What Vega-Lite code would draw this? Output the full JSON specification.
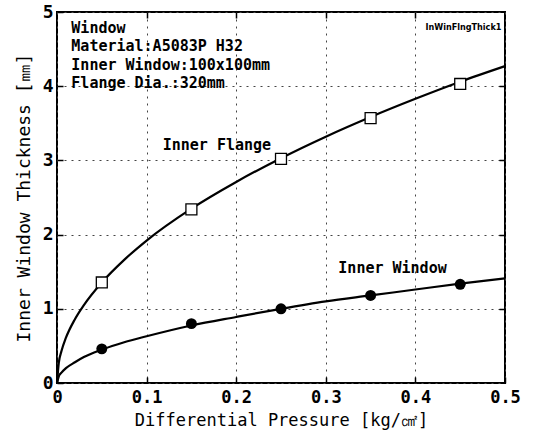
{
  "$schema": "https://vega.github.io/schema/vega-lite/v6.json",
  "autosize": "none",
  "width": 448,
  "height": 371,
  "padding": {"left": 57, "top": 12, "right": 30, "bottom": 58},
  "background": "white",
  "config": {
    "view": {"stroke": "black", "strokeWidth": 2},
    "font": "DejaVu Sans Mono",
    "axis": {"labelFont": "DejaVu Sans Mono", "titleFont": "DejaVu Sans Mono"}
  },
  "datasets": {
    "curves": [
      {"series": "Inner Flange", "p": 0, "t": 0},
      {"series": "Inner Flange", "p": 0.002, "t": 0.27},
      {"series": "Inner Flange", "p": 0.005, "t": 0.43},
      {"series": "Inner Flange", "p": 0.01, "t": 0.61},
      {"series": "Inner Flange", "p": 0.02, "t": 0.86},
      {"series": "Inner Flange", "p": 0.03, "t": 1.05},
      {"series": "Inner Flange", "p": 0.05, "t": 1.355},
      {"series": "Inner Flange", "p": 0.075, "t": 1.66},
      {"series": "Inner Flange", "p": 0.1, "t": 1.92},
      {"series": "Inner Flange", "p": 0.15, "t": 2.35},
      {"series": "Inner Flange", "p": 0.2, "t": 2.71},
      {"series": "Inner Flange", "p": 0.25, "t": 3.03},
      {"series": "Inner Flange", "p": 0.3, "t": 3.32},
      {"series": "Inner Flange", "p": 0.35, "t": 3.585},
      {"series": "Inner Flange", "p": 0.4, "t": 3.83},
      {"series": "Inner Flange", "p": 0.45, "t": 4.06},
      {"series": "Inner Flange", "p": 0.5, "t": 4.27},
      {"series": "Inner Window", "p": 0, "t": 0},
      {"series": "Inner Window", "p": 0.002, "t": 0.09},
      {"series": "Inner Window", "p": 0.005, "t": 0.14},
      {"series": "Inner Window", "p": 0.01, "t": 0.2},
      {"series": "Inner Window", "p": 0.02, "t": 0.28},
      {"series": "Inner Window", "p": 0.03, "t": 0.35},
      {"series": "Inner Window", "p": 0.05, "t": 0.45},
      {"series": "Inner Window", "p": 0.075, "t": 0.55},
      {"series": "Inner Window", "p": 0.1, "t": 0.63},
      {"series": "Inner Window", "p": 0.15, "t": 0.775},
      {"series": "Inner Window", "p": 0.2, "t": 0.89},
      {"series": "Inner Window", "p": 0.25, "t": 1.0},
      {"series": "Inner Window", "p": 0.3, "t": 1.1},
      {"series": "Inner Window", "p": 0.35, "t": 1.18},
      {"series": "Inner Window", "p": 0.4, "t": 1.26},
      {"series": "Inner Window", "p": 0.45, "t": 1.34},
      {"series": "Inner Window", "p": 0.5, "t": 1.41}
    ],
    "points": [
      {"series": "Inner Flange", "p": 0.05, "t": 1.355},
      {"series": "Inner Flange", "p": 0.15, "t": 2.34},
      {"series": "Inner Flange", "p": 0.25, "t": 3.02},
      {"series": "Inner Flange", "p": 0.35, "t": 3.57},
      {"series": "Inner Flange", "p": 0.45, "t": 4.03},
      {"series": "Inner Window", "p": 0.05, "t": 0.46},
      {"series": "Inner Window", "p": 0.15, "t": 0.8},
      {"series": "Inner Window", "p": 0.25, "t": 1.0},
      {"series": "Inner Window", "p": 0.35, "t": 1.18},
      {"series": "Inner Window", "p": 0.45, "t": 1.33}
    ],
    "notes": [
      {"label": "Window", "p": 0.016, "t": 4.79},
      {"label": "Material:A5083P H32", "p": 0.016, "t": 4.54},
      {"label": "Inner Window:100x100mm", "p": 0.016, "t": 4.29},
      {"label": "Flange Dia.:320mm", "p": 0.016, "t": 4.04},
      {"label": "Inner Flange", "p": 0.118, "t": 3.21},
      {"label": "Inner Window", "p": 0.314, "t": 1.55}
    ],
    "tag": [
      {"label": "InWinFlngThick1", "p": 0.496, "t": 4.8}
    ]
  },
  "layer": [
    {
      "data": {"name": "curves"},
      "mark": {"type": "line", "color": "black", "strokeWidth": 2.2, "interpolate": "monotone"},
      "encoding": {
        "x": {
          "field": "p", "type": "quantitative",
          "scale": {"domain": [0, 0.5], "nice": false},
          "axis": {
            "values": [0, 0.1, 0.2, 0.3, 0.4, 0.5],
            "labelExpr": "datum.value == 0 ? '0' : format(datum.value, '.1f')",
            "labelFontSize": 17, "labelFontWeight": "bold", "labelColor": "black",
            "labelPadding": 12, "labelFlush": false,
            "tickSize": -6, "tickColor": "black", "tickWidth": 1.5,
            "domain": false,
            "grid": true, "gridColor": "#444", "gridDash": [2, 5], "gridWidth": 1,
            "title": "Differential Pressure [kg/㎠]",
            "titleFontSize": 17, "titleFontWeight": "normal", "titleColor": "black",
            "titlePadding": 7
          }
        },
        "y": {
          "field": "t", "type": "quantitative",
          "scale": {"domain": [0, 5], "nice": false},
          "axis": {
            "values": [0, 1, 2, 3, 4, 5],
            "format": "d",
            "labelFontSize": 18, "labelFontWeight": "bold", "labelColor": "black",
            "labelPadding": 10, "labelFlush": false,
            "tickSize": -6, "tickColor": "black", "tickWidth": 1.5,
            "domain": false,
            "grid": true, "gridColor": "#444", "gridDash": [2, 5], "gridWidth": 1,
            "title": "Inner Window Thickness [㎜]",
            "titleFontSize": 18, "titleFontWeight": "normal", "titleColor": "black",
            "titlePadding": 9
          }
        },
        "detail": {"field": "series"}
      }
    },
    {
      "data": {"name": "points"},
      "transform": [{"filter": "datum.series == 'Inner Flange'"}],
      "mark": {"type": "point", "shape": "square", "filled": true, "fill": "white", "stroke": "black", "strokeWidth": 1.3, "size": 120, "opacity": 1},
      "encoding": {
        "x": {"field": "p", "type": "quantitative", "axis": {"orient": "top", "values": [0.1, 0.2, 0.3, 0.4], "labels": false, "domain": false, "grid": false, "tickSize": -6, "tickColor": "black", "tickWidth": 1.5, "title": null}},
        "y": {"field": "t", "type": "quantitative", "axis": {"orient": "right", "values": [1, 2, 3, 4], "labels": false, "domain": false, "grid": false, "tickSize": -6, "tickColor": "black", "tickWidth": 1.5, "title": null}}
      }
    },
    {
      "data": {"name": "points"},
      "transform": [{"filter": "datum.series == 'Inner Window'"}],
      "mark": {"type": "circle", "color": "black", "size": 120, "opacity": 1},
      "encoding": {
        "x": {"field": "p", "type": "quantitative", "axis": null},
        "y": {"field": "t", "type": "quantitative", "axis": null}
      }
    },
    {
      "data": {"name": "notes"},
      "mark": {"type": "text", "align": "left", "baseline": "middle", "fontSize": 15, "fontWeight": "bold", "font": "DejaVu Sans Mono", "color": "black"},
      "encoding": {
        "x": {"field": "p", "type": "quantitative", "axis": null},
        "y": {"field": "t", "type": "quantitative", "axis": null},
        "text": {"field": "label"}
      }
    },
    {
      "data": {"name": "tag"},
      "mark": {"type": "text", "align": "right", "baseline": "middle", "fontSize": 9, "fontWeight": "bold", "font": "DejaVu Sans Condensed", "color": "black"},
      "encoding": {
        "x": {"field": "p", "type": "quantitative", "axis": null},
        "y": {"field": "t", "type": "quantitative", "axis": null},
        "text": {"field": "label"}
      }
    }
  ],
  "resolve": {"axis": {"x": "independent", "y": "independent"}}
}
